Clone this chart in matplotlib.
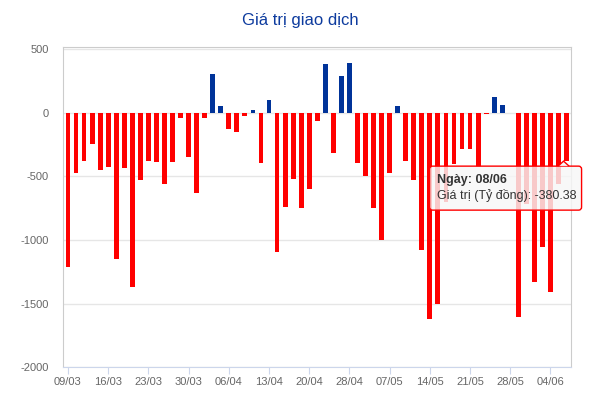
import numpy as np
import matplotlib.pyplot as plt
import matplotlib.patches as mpatches
import matplotlib.transforms as mtransforms

plt.rcParams['font.family'] = ['Liberation Sans', 'DejaVu Sans']
plt.rcParams['axes.unicode_minus'] = False

ngay = ['09/03', '10/03', '11/03', '12/03', '13/03',
        '16/03', '17/03', '18/03', '19/03', '20/03',
        '23/03', '24/03', '25/03', '26/03', '27/03',
        '30/03', '31/03', '01/04', '02/04', '03/04',
        '06/04', '07/04', '08/04', '09/04', '10/04',
        '13/04', '14/04', '15/04', '16/04', '17/04',
        '20/04', '21/04', '22/04', '23/04', '24/04',
        '28/04', '29/04', '04/05', '05/05', '06/05',
        '07/05', '08/05', '11/05', '12/05', '13/05',
        '14/05', '15/05', '18/05', '19/05', '20/05',
        '21/05', '22/05', '25/05', '26/05', '27/05',
        '28/05', '29/05', '01/06', '02/06', '03/06',
        '04/06', '05/06', '08/06']

gia_tri = [-1210, -474, -379, -245, -450,
           -426, -1152, -434, -1373, -529,
           -379, -387, -560, -387, -39,
           -347, -631, -39, 305, 53,
           -126, -150, -24, 21, -395,
           100, -1097, -742, -521, -750,
           -600, -63, 384, -316, 289,
           392, -395, -497, -750, -1002,
           -474, 53, -379, -529, -1081,
           -1617, -1499, -700, -402, -284,
           -284, -430, -8, 126, 60,
           0, -1604, -720, -1333, -1057,
           -1412, -560, -380.38]

x = np.arange(len(ngay))
mau = ['#003399' if v > 0 else '#ff0000' for v in gia_tri]

fig = plt.figure(figsize=(5.93, 4.17), dpi=100)
ax = fig.add_axes([0.1062, 0.1192, 0.8567, 0.7674])

ax.bar(x, gia_tri, width=0.6, color=mau, zorder=3)

ax.set_xlim(-0.62, 62.55)
ax.set_ylim(-2000, 514)
ax.set_yticks([500, 0, -500, -1000, -1500, -2000])
ax.set_xticks(x[::5])
ax.set_xticklabels(ngay[::5])

ax.grid(axis='y', color='#e6e6e6', linewidth=1, zorder=0)
for s in ['left', 'top', 'right']:
    ax.spines[s].set_color('#cccccc')
ax.spines['bottom'].set_color('#ccd6eb')
ax.tick_params(axis='y', length=0, pad=10, labelsize=8, labelcolor='#666666')
ax.tick_params(axis='x', length=5, color='#ccd6eb', pad=2, labelsize=8,
               labelcolor='#666666')

fig.text(0.506, 0.951, 'Giá trị giao dịch', ha='center', va='center',
         fontsize=12, color='#0d3b9e')

# tooltip cho ngày cuối, toạ độ tính bằng inch tính từ đỉnh cột
tr = fig.dpi_scale_trans + mtransforms.ScaledTranslation(
    x[-1], gia_tri[-1], ax.transData)
hop = mpatches.FancyBboxPatch((-1.37, -0.49), 1.52, 0.44,
                              boxstyle='round,pad=0,rounding_size=0.03',
                              transform=tr, fc=(0.97, 0.97, 0.97, 0.82),
                              ec='#ff0000', lw=1, zorder=10, clip_on=False)
fig.add_artist(hop)
mui = mpatches.Polygon([(-0.085, -0.05), (-0.03, 0.0), (0.025, -0.05)],
                       closed=False, transform=tr, fc=(0.97, 0.97, 0.97, 0.82),
                       ec='#ff0000', lw=1, zorder=10, clip_on=False)
fig.add_artist(mui)
fig.text(-1.30, -0.19, 'Ngày: ' + ngay[-1], transform=tr, ha='left',
         va='center', fontsize=9, fontweight='bold', color='#333333',
         zorder=11)
fig.text(-1.30, -0.345, 'Giá trị (Tỷ đồng): %.2f' % gia_tri[-1],
         transform=tr, ha='left', va='center', fontsize=9, color='#333333',
         zorder=11)

fig.savefig('out.png', dpi=100)
